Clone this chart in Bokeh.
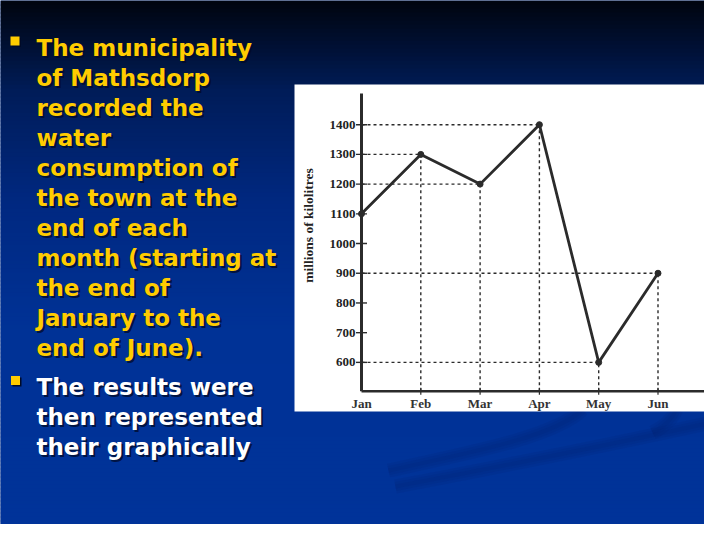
import math
from bokeh.plotting import figure
from bokeh.models import Range1d
from bokeh.core.properties import value
from bokeh.embed import file_html
from bokeh.resources import INLINE

# ---------------- data ----------------
months = ["Jan", "Feb", "Mar", "Apr", "May", "Jun"]
consumption = [1100, 1300, 1200, 1400, 600, 900]
y_ticks = [600, 700, 800, 900, 1000, 1100, 1200, 1300, 1400]
y_tick_labels = [str(v) for v in y_ticks]
y_title = "millions of kilolitres"
bullet1_lines = ["The municipality", "of Mathsdorp", "recorded the", "water",
                 "consumption of", "the town at the", "end of each",
                 "month (starting at", "the end of", "January to the",
                 "end of June)."]
bullet2_lines = ["The results were", "then represented", "their graphically"]

# ---------------- geometry ----------------
W, H = 704, 524
# chart axes in canvas pixels
AX_X, AX_Y, AX_TOP, AX_RIGHT = 361.0, 390.7, 93.0, 704.0
STEP_PX = 59.3                    # px per month
X0 = 0.0
X_END = X0 + (AX_RIGHT - AX_X) / STEP_PX
Y_LO, Y_HI = 503.0, 1505.0       # data at x-axis / top of y-axis

xpx = STEP_PX
ypx = (AX_Y - AX_TOP) / (Y_HI - Y_LO)
x_range = Range1d(X0 - AX_X / xpx, X_END + (W - AX_RIGHT) / xpx)
y_range = Range1d(Y_LO - (H - AX_Y) / ypx, Y_HI + AX_TOP / ypx)

p = figure(width=W, height=H, output_backend="svg", toolbar_location=None,
           x_range=x_range, y_range=y_range,
           x_axis_location=None, y_axis_location=None,
           min_border=0, min_border_left=0, min_border_right=0,
           min_border_top=0, min_border_bottom=0)
p.extra_x_ranges = {"px": Range1d(0, W)}
p.extra_y_ranges = {"px": Range1d(H, 0)}
p.outline_line_color = None
p.grid.visible = False
p.border_fill_color = "#002a80"
p.background_fill_color = "#002a80"
PX = dict(x_range_name="px", y_range_name="px")

# ---------------- slide background gradient ----------------
stops_y = [0, 90, 200, 330, 540]
stops_c = [(0, 4, 14), (0, 28, 88), (0, 40, 128), (0, 50, 150), (0, 51, 153)]


def grad(yp):
    for k in range(len(stops_y) - 1):
        if stops_y[k] <= yp <= stops_y[k + 1]:
            t = (yp - stops_y[k]) / (stops_y[k + 1] - stops_y[k])
            c0, c1 = stops_c[k], stops_c[k + 1]
            return "#%02x%02x%02x" % tuple(int(round(a + (b - a) * t)) for a, b in zip(c0, c1))
    return "#%02x%02x%02x" % stops_c[-1]


step = 4
band_top = list(range(0, H, step))
band_bot = [min(t + step + 1, H) for t in band_top]
band_col = [grad(t + step / 2) for t in band_top]
p.quad(left=0, right=W, top=band_top, bottom=band_bot, fill_color=band_col,
       line_color=None, **PX)

# faint decorative streaks (bottom right of the slide)
streak = dict(x0=[395, 388, 652], y0=[486, 470, 432],
              x1=[720, 582, 676], y1=[420, 409, 409],
              cx0=[500, 470, 664], cy0=[466, 452, 426],
              cx1=[620, 555, 672], cy1=[442, 436, 418])
for lw, la in ((14, 0.12), (9, 0.14), (4, 0.14)):
    p.bezier(line_color="#00226e", line_width=lw, line_alpha=la, **streak, **PX)

# white picture panel
p.quad(left=[294], right=[W], top=[84], bottom=[411], fill_color="white",
       line_color=None, **PX)

# ---------------- chart ----------------
xs = list(range(len(months)))
n = len(months)
ink = "#2b2b2b"

# dashed guide lines
p.segment(x0=[X0] * n, y0=consumption, x1=xs, y1=consumption,
          line_color=ink, line_width=1.4, line_dash="3 3")
p.segment(x0=xs[1:], y0=[Y_LO] * (n - 1), x1=xs[1:], y1=consumption[1:],
          line_color=ink, line_width=1.4, line_dash="3 3")

# axes
p.segment(x0=[X0], y0=[Y_LO], x1=[X0], y1=[Y_HI], line_color=ink, line_width=3)
p.segment(x0=[X0], y0=[Y_LO], x1=[X_END], y1=[Y_LO], line_color=ink, line_width=2.6)
p.scatter(x=[X0] * len(y_ticks), y=y_ticks, marker="dash", size=11,
          line_color=ink, line_width=1.4)
p.scatter(x=xs[1:], y=[Y_LO] * (n - 1), marker="dash", angle=math.pi / 2, size=7,
          line_color=ink, line_width=1.2)
p.text(x=[X0] * len(y_ticks), y=y_ticks, text=y_tick_labels, x_offset=-6,
       text_align="right", text_baseline="middle",
       text_font=value("Liberation Serif"), text_font_style="bold",
       text_font_size="13px", text_color="#222222")
p.text(x=xs, y=[Y_LO] * n, text=months, y_offset=5,
       text_align="center", text_baseline="top",
       text_font=value("Liberation Serif"), text_font_style="bold",
       text_font_size="13px", text_color="#333333")
p.text(x=[308], y=[225], text=[y_title], angle=math.pi / 2,
       text_align="center", text_baseline="middle",
       text_font=value("Liberation Serif"), text_font_style="bold",
       text_font_size="13.5px", text_color="#222222", **PX)

# data line
p.line(xs, consumption, line_color=ink, line_width=2.8)
p.scatter(xs, consumption, size=6, color=ink)

# ---------------- slide text ----------------
TEXT_X = 36
LINE_H = 30
b1_y = [47 + i * LINE_H for i in range(len(bullet1_lines))]
b2_y = [386 + i * LINE_H for i in range(len(bullet2_lines))]
shadow = "#000a28"
for lines, ys, col in ((bullet1_lines, b1_y, "#FFCC00"), (bullet2_lines, b2_y, "#FFFFFF")):
    for dx, c, a in ((2, shadow, 0.75), (0, col, 1.0)):
        p.text(x=[TEXT_X + dx] * len(lines), y=[yy + dx for yy in ys], text=lines,
               text_align="left", text_baseline="alphabetic",
               text_font=value("DejaVu Sans"), text_font_style="bold",
               text_font_size="23px", text_color=c, text_alpha=a, **PX)

# bullets
bx = [14.5, 15]
by = [40.5, 380]
p.scatter(x=[v + 1.5 for v in bx], y=[v + 1.5 for v in by], marker="square", size=9,
          fill_color=shadow, line_color=None, **PX)
p.scatter(x=bx, y=by, marker="square", size=9, fill_color="#FFCC00",
          line_color=None, **PX)

open("out.html", "w").write(file_html(p, INLINE))
